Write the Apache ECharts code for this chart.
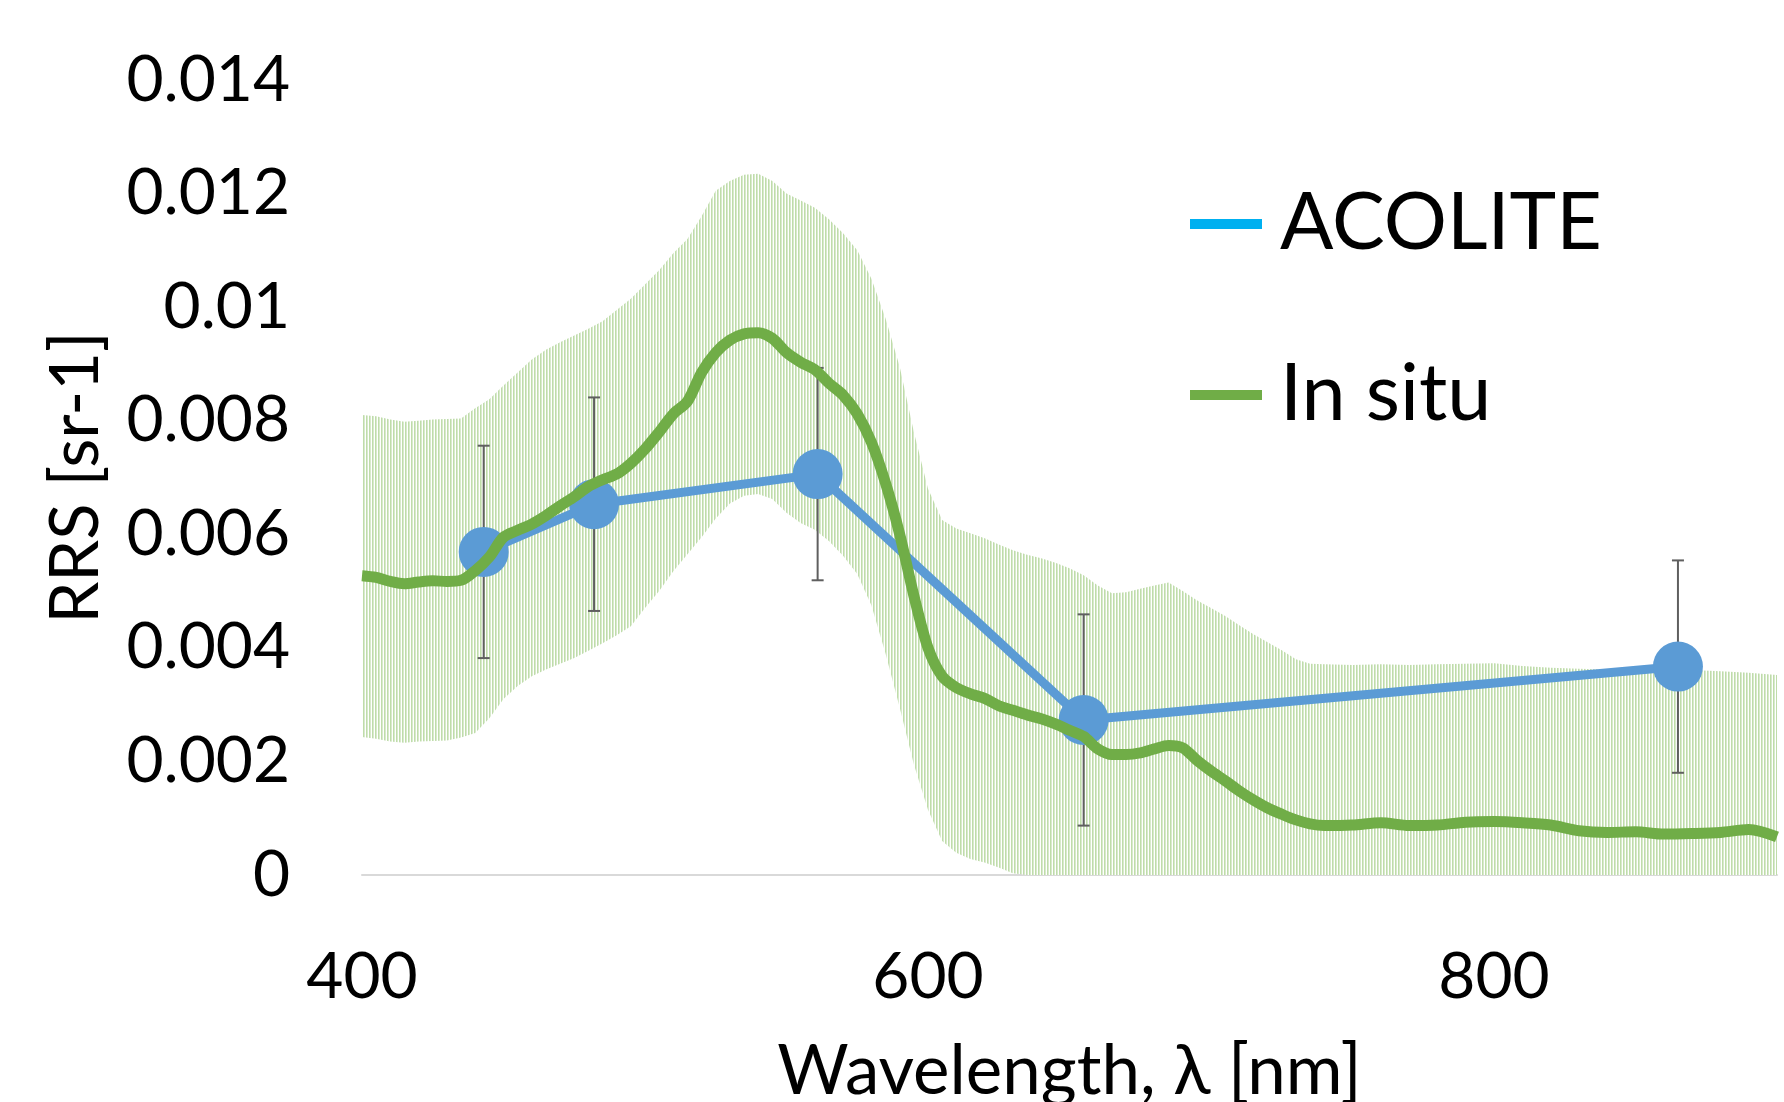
<!DOCTYPE html>
<html><head><meta charset="utf-8">
<script src="https://cdn.jsdelivr.net/npm/echarts@6/dist/echarts.min.js"></script>
<style>html,body{margin:0;padding:0;background:#fff}#c{width:1784px;height:1102px}</style>
</head><body><div id="c"></div>
<script>
// ---- data ----
const wavelengths = [400,405,410,415,420,425,430,435,440,445,450,455,460,465,470,475,480,485,490,495,
  500,505,510,515,520,525,530,535,540,545,550,555,560,565,570,575,580,585,590,595,
  600,605,610,615,620,625,630,635,640,645,650,655,660,665,670,675,680,685,690,695,
  700,705,710,715,720,725,730,735,740,750,760,770,780,790,800,810,820,830,840,850,860,870,880,890,900];
const inSitu = [0.00527,0.00524,0.00517,0.00513,0.00516,0.00518,0.00517,0.00519,0.00536,0.00560,0.00595,0.00607,0.00618,0.00633,0.00650,0.00666,0.00684,0.00696,0.00706,0.00725,
  0.00750,0.00780,0.00812,0.00834,0.00885,0.00920,0.00942,0.00953,0.00955,0.00945,0.00920,0.00903,0.00890,0.00866,0.00845,0.00812,0.00762,0.00690,0.00600,0.00492,
  0.00400,0.00350,0.00330,0.00319,0.00311,0.00298,0.00290,0.00282,0.00275,0.00266,0.00255,0.00244,0.00222,0.00212,0.00212,0.00215,0.00222,0.00228,0.00224,0.00202,
  0.00183,0.00166,0.00148,0.00132,0.00118,0.00107,0.00097,0.00090,0.00087,0.00088,0.00092,0.00087,0.00088,0.00093,0.00094,0.00092,0.00088,0.00078,0.00075,0.00076,0.00072,0.00073,0.00075,0.00080,0.00067];
const inSituUpper = [0.00810,0.00808,0.00802,0.00798,0.00800,0.00802,0.00803,0.00804,0.00822,0.00838,0.00862,0.00885,0.00908,0.00925,0.00938,0.00950,0.00962,0.00975,0.00995,0.01015,
  0.01040,0.01065,0.01095,0.01120,0.01160,0.01205,0.01222,0.01233,0.01235,0.01222,0.01200,0.01188,0.01175,0.01155,0.01130,0.01100,0.01050,0.00980,0.00895,0.00780,
  0.00680,0.00625,0.00610,0.00602,0.00593,0.00582,0.00572,0.00564,0.00558,0.00550,0.00540,0.00528,0.00510,0.00496,0.00498,0.00504,0.00510,0.00515,0.00500,0.00484,
  0.00470,0.00456,0.00440,0.00424,0.00410,0.00396,0.00380,0.00372,0.00371,0.00370,0.00371,0.00370,0.00371,0.00372,0.00373,0.00368,0.00365,0.00363,0.00362,0.00361,0.00362,0.00361,0.00359,0.00356,0.00352];
const inSituLower = [0.00243,0.00240,0.00235,0.00233,0.00235,0.00236,0.00237,0.00242,0.00250,0.00276,0.00310,0.00333,0.00350,0.00362,0.00372,0.00382,0.00395,0.00408,0.00422,0.00438,
  0.00470,0.00500,0.00535,0.00565,0.00595,0.00628,0.00654,0.00668,0.00671,0.00662,0.00638,0.00620,0.00608,0.00588,0.00562,0.00530,0.00475,0.00390,0.00295,0.00195,
  0.00115,0.00060,0.00039,0.00028,0.00022,0.00013,0.00003,0,0,0,0,0,0,0,0,0,0,0,0,0,
  0,0,0,0,0,0,0,0,0,0,0,0,0,0,0,0,0,0,0,0,0,0,0,0,0];
const acoliteWl = [443, 482, 561, 655, 865];
const acolite = [0.00569, 0.00653, 0.00706, 0.00273, 0.00367];
const acoliteErr = [0.00187, 0.00188, 0.00187, 0.00186, 0.00187];
const xTickStep = 200;
const yTickStep = 0.002;

// ---- hatch pattern for the in-situ range ----
const stripe = document.createElement('canvas');
stripe.width = 3; stripe.height = 4;
const sctx = stripe.getContext('2d');
sctx.fillStyle = '#ffffff'; sctx.fillRect(0, 0, 3, 4);
sctx.fillStyle = '#BFDCAA'; sctx.fillRect(0, 0, 1, 4);
sctx.fillStyle = '#D8EACC'; sctx.fillRect(1, 0, 1, 4);

const FONT = 'Lato';
const chart = echarts.init(document.getElementById('c'), null, {renderer: 'canvas'});
const option = {
  backgroundColor: '#ffffff',
  animation: false,
  textStyle: {fontFamily: FONT},
  grid: {left: 362, right: 7, top: 80, bottom: 227, outerBoundsMode: 'none', containLabel: false},
  legend: {
    orient: 'vertical', left: 1185, top: 178,
    itemWidth: 72, itemHeight: 10, itemGap: 89, icon: 'rect',
    textStyle: {fontSize: 79, lineHeight: 82, color: '#000', fontFamily: FONT, padding: [0, 0, 0, 13]},
    data: [
      {name: 'ACOLITE', itemStyle: {color: '#00B0F0'}},
      {name: 'In situ', itemStyle: {color: '#70AD47'}}
    ]
  },
  xAxis: {
    type: 'value', min: 400, max: 900, interval: xTickStep,
    name: 'Wavelength, λ [nm]', nameLocation: 'middle', nameGap: 162,
    nameTextStyle: {fontSize: 69, color: '#000', fontFamily: FONT},
    axisLine: {show: true, lineStyle: {color: '#D9D9D9', width: 2}},
    axisTick: {show: false}, splitLine: {show: false},
    axisLabel: {fontSize: 64, color: '#000', margin: 70, showMaxLabel: false, fontFamily: FONT}
  },
  yAxis: {
    type: 'value', min: 0, max: 0.014, interval: yTickStep,
    name: 'RRS [sr-1]', nameLocation: 'middle', nameGap: 252,
    nameTextStyle: {fontSize: 67, color: '#000', fontFamily: FONT},
    axisLine: {show: false}, axisTick: {show: false}, splitLine: {show: false},
    axisLabel: {fontSize: 64, color: '#000', margin: 72, fontFamily: FONT,
      formatter: v => String(parseFloat(v.toFixed(3)))}
  },
  series: [
    {
      name: 'range', type: 'custom', z: 1, silent: true,
      data: wavelengths.map((w, i) => [w, inSituLower[i], inSituUpper[i]]),
      encode: {x: 0, y: [1, 2]},
      renderItem: (params, api) => {
        if (params.dataIndexInside !== 0) return null;
        const n = params.dataInsideLength;
        const top = [], bot = [];
        for (let i = 0; i < n; i++) {
          const x = api.value(0, i);
          top.push(api.coord([x, api.value(2, i)]));
          bot.push(api.coord([x, api.value(1, i)]));
        }
        return {
          type: 'polygon',
          shape: {points: top.concat(bot.reverse())},
          style: {fill: {type: 'pattern', image: stripe, repeat: 'repeat'}, stroke: null}
        };
      }
    },
    {
      name: 'errorBars', type: 'custom', z: 2, silent: true,
      data: acoliteWl.map((w, i) => [w, acolite[i] - acoliteErr[i], acolite[i] + acoliteErr[i]]),
      encode: {x: 0, y: [1, 2]},
      renderItem: (params, api) => {
        const lo = api.coord([api.value(0), api.value(1)]);
        const hi = api.coord([api.value(0), api.value(2)]);
        const hw = 6;
        const style = {stroke: '#5F5F5F', lineWidth: 2};
        return {type: 'group', children: [
          {type: 'line', shape: {x1: hi[0], y1: hi[1], x2: lo[0], y2: lo[1]}, style},
          {type: 'line', shape: {x1: hi[0] - hw, y1: hi[1], x2: hi[0] + hw, y2: hi[1]}, style},
          {type: 'line', shape: {x1: lo[0] - hw, y1: lo[1], x2: lo[0] + hw, y2: lo[1]}, style}
        ]};
      }
    },
    {
      name: 'ACOLITE', type: 'line', z: 3,
      data: acoliteWl.map((w, i) => [w, acolite[i]]),
      symbol: 'circle', symbolSize: 50, showAllSymbol: true,
      itemStyle: {color: '#5B9BD5'},
      lineStyle: {color: '#5B9BD5', width: 9}
    },
    {
      name: 'In situ', type: 'line', z: 4,
      data: wavelengths.map((w, i) => [w, inSitu[i]]),
      symbol: 'none', smooth: 0.3,
      itemStyle: {color: '#70AD47'},
      lineStyle: {color: '#70AD47', width: 11}
    }
  ]
};
chart.setOption(option);
</script>
</body></html>
